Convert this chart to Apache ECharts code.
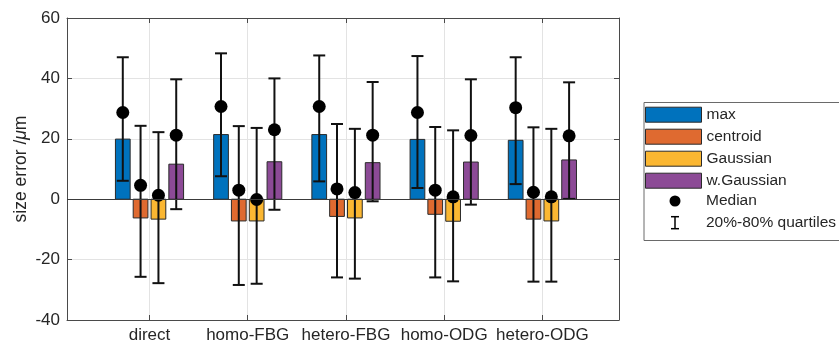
<!DOCTYPE html>
<html>
<head>
<meta charset="utf-8">
<script src="https://cdn.jsdelivr.net/npm/echarts@6/dist/echarts.min.js"></script>
<style>
html,body{margin:0;padding:0;background:#fff;}
#chart{width:839px;height:347px;}
</style>
</head>
<body>
<div id="chart"></div>
<script>
const categories = ['direct', 'homo-FBG', 'hetero-FBG', 'homo-ODG', 'hetero-ODG'];
const methods = ['max', 'centroid', 'Gaussian', 'w.Gaussian'];
const yTicks = [-40, -20, 0, 20, 40, 60];

// bar heights (mean size error, µm)
const barMax       = [19.9, 21.4, 21.4, 19.8, 19.5];
const barCentroid  = [-6.2, -7.2, -5.7, -5.0, -6.6];
const barGaussian  = [-6.6, -7.2, -6.2, -7.3, -7.2];
const barWGaussian = [11.6, 12.4, 12.1, 12.3, 13.0];

// medians
const medMax       = [28.7, 30.7, 30.7, 28.7, 30.3];
const medCentroid  = [4.6, 3.0, 3.4, 3.0, 2.3];
const medGaussian  = [1.3, -0.1, 2.2, 0.8, 0.8];
const medWGaussian = [21.2, 23.0, 21.2, 21.1, 21.0];

// 20% quantiles
const q20Max       = [6.1, 7.6, 5.9, 3.7, 5.0];
const q20Centroid  = [-25.7, -28.4, -25.9, -25.9, -27.3];
const q20Gaussian  = [-27.8, -28.0, -26.3, -27.2, -27.3];
const q20WGaussian = [-3.3, -3.5, -0.7, -1.8, 0.1];

// 80% quantiles
const q80Max       = [47.0, 48.3, 47.6, 47.4, 47.0];
const q80Centroid  = [24.3, 24.2, 24.9, 23.9, 23.8];
const q80Gaussian  = [22.2, 23.6, 23.3, 22.8, 23.3];
const q80WGaussian = [39.7, 40.0, 38.8, 39.7, 38.7];

const bars = [barMax, barCentroid, barGaussian, barWGaussian];
const meds = [medMax, medCentroid, medGaussian, medWGaussian];
const q20s = [q20Max, q20Centroid, q20Gaussian, q20WGaussian];
const q80s = [q80Max, q80Centroid, q80Gaussian, q80WGaussian];

const colors = ['#0072BD', '#DF6A30', '#FBB732', '#8C4A96'];
const offsets = [-0.272, -0.091, 0.091, 0.272];
const barW = 0.15;
const FONT = "'Liberation Sans', Arial, Helvetica, sans-serif";
const TXT = '#262626';
const AX = '#4a4a4a';

const series = [];
methods.forEach((m, s) => {
  series.push({
    name: m,
    type: 'custom',
    xAxisIndex: 0, yAxisIndex: 0,
    itemStyle: {color: colors[s]},
    data: categories.map((c, i) => [i + 1 + offsets[s], bars[s][i]]),
    renderItem: (params, api) => {
      const x = api.value(0), v = api.value(1);
      const p0 = api.coord([x - barW / 2, v]);
      const p1 = api.coord([x + barW / 2, 0]);
      return {
        type: 'rect',
        shape: {x: p0[0], y: Math.min(p0[1], p1[1]), width: p1[0] - p0[0], height: Math.abs(p1[1] - p0[1])},
        style: {fill: colors[s], stroke: '#2a2a2a', lineWidth: 1}
      };
    },
    markLine: s === 0 ? {
      silent: true, symbol: 'none', label: {show: false},
      lineStyle: {color: '#3a3a3a', width: 1, type: 'solid'},
      data: [{yAxis: 0}]
    } : undefined,
    z: 2
  });
});

const errData = [];
const medData = [];
methods.forEach((m, s) => {
  categories.forEach((c, i) => {
    errData.push([i + 1 + offsets[s], q20s[s][i], q80s[s][i]]);
    medData.push([i + 1 + offsets[s], meds[s][i]]);
  });
});

series.push({
  name: '20%-80% quartiles',
  type: 'custom',
  itemStyle: {color: '#000'},
  data: errData,
  renderItem: (params, api) => {
    const x = api.value(0);
    const lo = api.coord([x, api.value(1)]);
    const hi = api.coord([x, api.value(2)]);
    const cap = 6;
    const st = {stroke: '#111', lineWidth: 2};
    return {
      type: 'group',
      children: [
        {type: 'line', shape: {x1: lo[0], y1: lo[1], x2: hi[0], y2: hi[1]}, style: st},
        {type: 'line', shape: {x1: lo[0] - cap, y1: lo[1], x2: lo[0] + cap, y2: lo[1]}, style: st},
        {type: 'line', shape: {x1: hi[0] - cap, y1: hi[1], x2: hi[0] + cap, y2: hi[1]}, style: st}
      ]
    };
  },
  z: 3
});

series.push({
  name: 'Median',
  type: 'scatter',
  symbol: 'circle',
  symbolSize: 13,
  itemStyle: {color: '#000', opacity: 1},
  data: medData,
  z: 4
});

const chart = echarts.init(document.getElementById('chart'), null, {renderer: 'canvas'});
chart.setOption({
  animation: false,
  backgroundColor: '#fff',
  grid: {left: 67, top: 18, width: 552, height: 302, containLabel: false},
  xAxis: [{
    type: 'value', position: 'bottom', min: 0.16, max: 5.78,
    axisLine: {show: true, onZero: false, lineStyle: {color: AX, width: 1}},
    axisTick: {show: true, inside: true, length: 5, customValues: [1, 2, 3, 4, 5], lineStyle: {color: AX}},
    axisLabel: {
      customValues: [1, 2, 3, 4, 5],
      formatter: v => categories[Math.round(v) - 1] || '',
      fontSize: 17, fontFamily: FONT, color: TXT, margin: 7
    },
    splitLine: {show: true, lineStyle: {color: '#e3e3e3', width: 1}}
  }, {
    type: 'value', position: 'top', min: 0.16, max: 5.78,
    axisLine: {show: true, onZero: false, lineStyle: {color: AX, width: 1}},
    axisTick: {show: true, inside: true, length: 5, customValues: [1, 2, 3, 4, 5], lineStyle: {color: AX}},
    axisLabel: {show: false},
    splitLine: {show: false}
  }],
  yAxis: [{
    type: 'value', min: -40, max: 60, interval: 20, position: 'left',
    axisLine: {show: true, onZero: false, lineStyle: {color: AX, width: 1}},
    axisTick: {show: true, inside: true, length: 5, lineStyle: {color: AX}},
    axisLabel: {fontSize: 17, fontFamily: FONT, color: TXT, margin: 7, formatter: v => String(v)},
    splitLine: {show: true, lineStyle: {color: '#e3e3e3', width: 1}}
  }, {
    type: 'value', min: -40, max: 60, interval: 20, position: 'right',
    axisLine: {show: true, onZero: false, lineStyle: {color: AX, width: 1}},
    axisTick: {show: true, inside: true, length: 5, lineStyle: {color: AX}},
    axisLabel: {show: false},
    splitLine: {show: false}
  }],
  legend: [{
    orient: 'vertical', left: 645, top: 106.7, padding: 0,
    itemWidth: 56, itemHeight: 15, itemGap: 6.0,
    textStyle: {fontSize: 15.5, fontFamily: FONT, color: TXT},
    data: methods.map((m, s) => ({name: m, icon: 'rect', itemStyle: {color: colors[s], borderColor: '#2a2a2a', borderWidth: 1}})),
    selectedMode: false
  }],
  graphic: [{
    type: 'rect', left: 641.5, top: 100,
    shape: {width: 196, height: 138},
    style: {fill: 'none', stroke: '#6a6a6a', lineWidth: 1},
    silent: true
  }, {
    type: 'circle', silent: true,
    shape: {cx: 675, cy: 201, r: 5.5},
    style: {fill: '#000'}
  }, {
    type: 'group', silent: true,
    children: [
      {type: 'line', shape: {x1: 675, y1: 216.7, x2: 675, y2: 228.7}, style: {stroke: '#000', lineWidth: 1.5}},
      {type: 'line', shape: {x1: 671, y1: 216.7, x2: 679, y2: 216.7}, style: {stroke: '#000', lineWidth: 1.5}},
      {type: 'line', shape: {x1: 671, y1: 228.7, x2: 679, y2: 228.7}, style: {stroke: '#000', lineWidth: 1.5}}
    ]
  }, {
    type: 'text', silent: true, x: 706, y: 201,
    style: {text: 'Median', fontSize: 15.5, fontFamily: FONT, fill: TXT, textAlign: 'left', textVerticalAlign: 'middle'}
  }, {
    type: 'text', silent: true, x: 706, y: 222.7,
    style: {text: '20%-80% quartiles', fontSize: 15.5, fontFamily: FONT, fill: TXT, textAlign: 'left', textVerticalAlign: 'middle'}
  }, {
    type: 'text', silent: true, x: 21, y: 169, rotation: Math.PI / 2,
    style: {
      text: '{a|size error /}{b|μ}{a|m}',
      textAlign: 'center', textVerticalAlign: 'middle',
      rich: {
        a: {fontSize: 17.5, fontFamily: FONT, fill: TXT, color: TXT},
        b: {fontSize: 17.5, fontFamily: FONT, fill: TXT, color: TXT, fontStyle: 'italic'}
      }
    }
  }],
  series: series
});
</script>
</body>
</html>
